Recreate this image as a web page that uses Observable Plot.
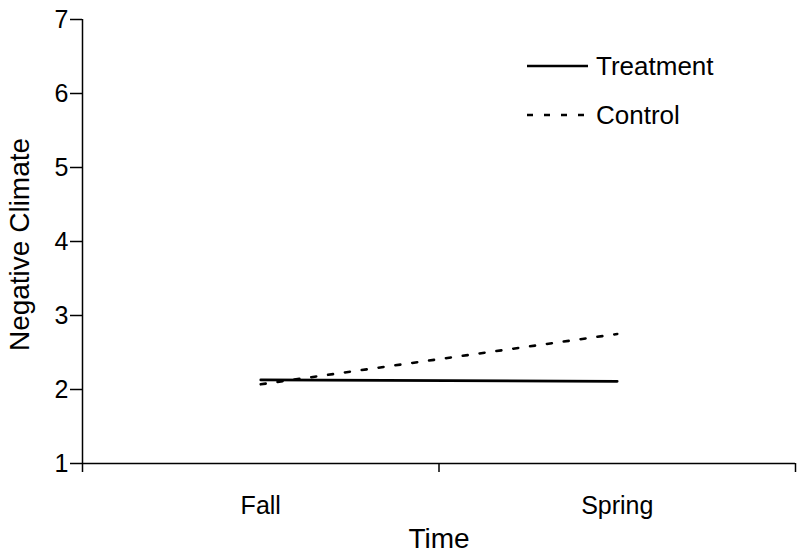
<!DOCTYPE html>
<html><head><meta charset="utf-8">
<script src="https://cdn.jsdelivr.net/npm/d3@7"></script>
<script src="https://cdn.jsdelivr.net/npm/@observablehq/plot@0.6"></script>
<style>
body{margin:0;background:#fff;}
svg{font-family:"Liberation Sans",Arial,sans-serif;}
g[aria-label="y-axis tick label"]{font-size:25px;}
g[aria-label="x-axis tick label"]{font-size:25px;}
</style></head><body><div id="chart"></div>
<script>
const times = ["Fall", "Spring"];
const timePos = [0.5, 1.5];
const treatment = [2.13, 2.11];
const control = [2.07, 2.75];
const yTicks = [1, 2, 3, 4, 5, 6, 7];
const xTicks = [0, 1, 2];
const seriesNames = ["Treatment", "Control"];
const seriesDash = [null, "6,11"];

const treatData = times.map((t, i) => ({x: timePos[i], y: treatment[i]}));
const ctrlData = times.map((t, i) => ({x: timePos[i], y: control[i]}));

const plot = Plot.plot({
  width: 800, height: 557,
  marginLeft: 82, marginRight: 5, marginTop: 19, marginBottom: 94,
  x: {domain: [0, 2], label: null},
  y: {domain: [1, 7], label: null},
  style: {fontFamily: '"Liberation Sans", Arial, sans-serif', fontSize: "25px", color: "black", background: "white"},
  marks: [
    Plot.axisY(yTicks, {tickSize: 12, tickPadding: 2, fontSize: 25, tickFormat: d => String(d), label: null, strokeWidth: 1.5}),
    Plot.axisX(xTicks, {tickSize: 9, tickFormat: () => "", label: null, strokeWidth: 1.5}),
    Plot.axisX(timePos, {tickSize: 0, tickPadding: 33, tickFormat: d => times[timePos.indexOf(d)], fontSize: 25, label: null}),
    Plot.ruleX([0], {strokeWidth: 1.5}),
    Plot.ruleY([1], {strokeWidth: 1.5}),
    Plot.line(treatData, {x: "x", y: "y", strokeWidth: 2.6, stroke: "black"}),
    Plot.line(ctrlData, {x: "x", y: "y", strokeWidth: 2.6, stroke: "black", strokeDasharray: "5,12"}),
    Plot.text(["Time"], {frameAnchor: "bottom", dy: 84, fontSize: 28, fill: "black"}),
    Plot.text(["Negative Climate"], {frameAnchor: "left", textAnchor: "middle", dx: -62, dy: 3, rotate: -90, fontSize: 28, fill: "black"})
  ]
});
document.getElementById("chart").appendChild(plot);

const svg = d3.select(plot);
const g = svg.append("g").attr("font-size", 26).attr("fill", "black").attr("text-anchor", "start");
seriesNames.forEach((s, i) => {
  const y = 66 + i * 49;
  g.append("line").attr("x1", 527).attr("x2", 588).attr("y1", y).attr("y2", y)
    .attr("stroke", "black").attr("stroke-width", 2.6)
    .attr("stroke-dasharray", seriesDash[i]);
  g.append("text").attr("x", 596).attr("y", y).attr("dy", "0.35em").attr("text-anchor", "start").text(s);
});
</script></body></html>
